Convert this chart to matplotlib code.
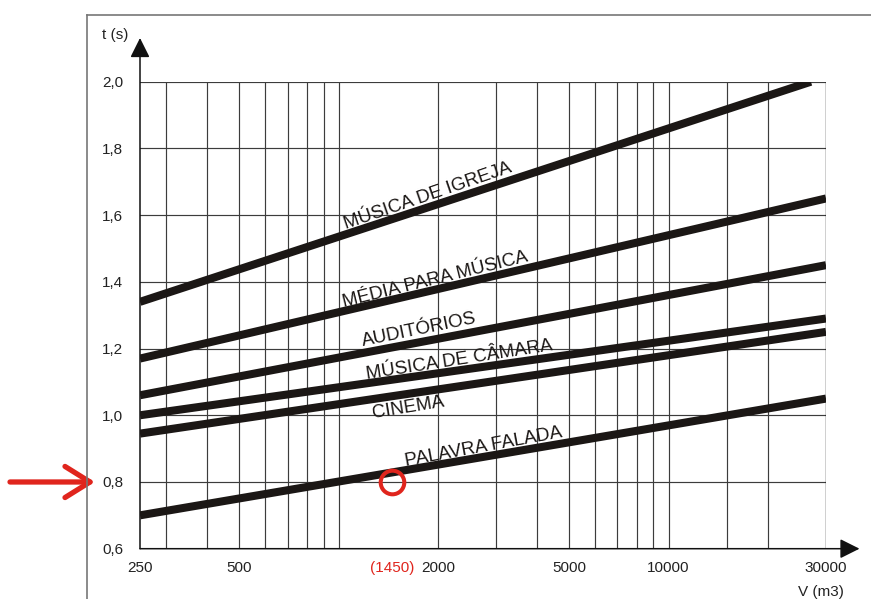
import numpy as np
import matplotlib
matplotlib.use("Agg")
import matplotlib.pyplot as plt
from matplotlib.lines import Line2D

plt.rcParams["font.family"] = ["Liberation Sans", "DejaVu Sans"]

# reverberation time vs room volume, one straight line (log V) per room use
names = ["MÚSICA DE IGREJA", "MÉDIA PARA MÚSICA", "AUDITÓRIOS",
         "MÚSICA DE CÂMARA", "CINEMA", "PALAVRA FALADA"]
v_start = [250, 250, 250, 250, 250, 250]
t_start = [1.34, 1.17, 1.06, 1.00, 0.945, 0.70]
v_end = [27000, 30000, 30000, 30000, 30000, 30000]
t_end = [2.00, 1.65, 1.45, 1.29, 1.25, 1.05]

# where each name sits along its line, and how far above (+) / below (-) it, in points
label_v = [1865, 1960, 1750, 2320, 1630, 2750]
label_dy = [8, 7.5, 9, 7, -10, 7]

x_ticks = [250, 500, 1450, 2000, 5000, 10000, 30000]
x_ticklabels = ["250", "500", "(1450)", "2000", "5000", "10000", "30000"]
y_ticks = [0.6, 0.8, 1.0, 1.2, 1.4, 1.6, 1.8, 2.0]
y_ticklabels = ["0,6", "0,8", "1,0", "1,2", "1,4", "1,6", "1,8", "2,0"]
v_grid = [300, 400, 500, 600, 700, 800, 900, 1000, 2000, 3000, 4000, 5000,
          6000, 7000, 8000, 9000, 10000, 15000, 20000]

# worked example: 1450 m3 of spoken word
v_example = 1450
t_example = 0.8

W, H = 871, 599
fig = plt.figure(figsize=(W / 100, H / 100), dpi=100)
ax = fig.add_axes([140 / W, 1 - 548.7 / H, 686 / W, 467 / H])
ax.set_xscale("log")
ax.set_xlim(250, 30000)
ax.set_ylim(0.6, 2.0)

grid_kw = dict(color="#3c3c3c", lw=0.85, zorder=1)
for v in v_grid:
    ax.axvline(v, **grid_kw)
for t in y_ticks[1:]:
    ax.axhline(t, **grid_kw)
ax.axvline(30000, color="#111", lw=1.0, zorder=1)

for sp in ax.spines.values():
    sp.set_visible(False)

ax.set_xticks(x_ticks)
ax.set_xticklabels(x_ticklabels)
ax.set_yticks(y_ticks)
ax.set_yticklabels(y_ticklabels)
ax.xaxis.set_minor_locator(matplotlib.ticker.NullLocator())
ax.tick_params(length=0, labelsize=11, colors="#222")
ax.tick_params(axis="x", pad=9)
ax.tick_params(axis="y", pad=12)
for lab in ax.get_xticklabels():
    if lab.get_text() == "(1450)":
        lab.set_color("#e0251d")

# axis lines with filled arrow heads
arrow_kw = dict(arrowstyle="-|>,head_length=0.6,head_width=0.3", mutation_scale=20,
                color="#111", lw=1.1, shrinkA=0, shrinkB=0)
ax.annotate("", xy=(0, 1 + 43.7 / 467), xytext=(0, 0), xycoords="axes fraction",
            arrowprops=arrow_kw, annotation_clip=False)
ax.annotate("", xy=(1 + 33.5 / 686, 0), xytext=(0, 0), xycoords="axes fraction",
            arrowprops=arrow_kw, annotation_clip=False)

for name, v0, t0, v1, t1, lv, dy in zip(names, v_start, t_start, v_end, t_end,
                                        label_v, label_dy):
    ax.plot([v0, v1], [t0, t1], color="#1b1715", lw=5.8, solid_capstyle="butt", zorder=3)
    p0 = ax.transData.transform((v0, t0))
    p1 = ax.transData.transform((v1, t1))
    ang = np.degrees(np.arctan2(p1[1] - p0[1], p1[0] - p0[0]))
    frac = np.log10(lv / v0) / np.log10(v1 / v0)
    lt = t0 + frac * (t1 - t0)
    ax.annotate(name, xy=(lv, lt), xytext=(0, dy), textcoords="offset points",
                ha="center", va="center", rotation=ang + 0.8, rotation_mode="anchor",
                fontsize=13.5, color="#1b1715", zorder=4)

ax.plot(v_example, t_example, "o", ms=17, mfc="none", mec="#e0251d", mew=2.9,
        zorder=5, clip_on=False)

# red pointer to the 0,8 s reading
ax.annotate("", xy=(95 / W, t_example), xytext=(10 / W, t_example),
            xycoords=("figure fraction", "data"),
            arrowprops=dict(arrowstyle="->,head_length=0.45,head_width=0.28",
                            mutation_scale=40, color="#e0251d", lw=3.8,
                            shrinkA=0, shrinkB=0),
            annotation_clip=False)

fig.text(115 / W, 1 - 35 / H, "t (s)", ha="center", va="center", fontsize=11, color="#222")
fig.text(821 / W, 1 - 592 / H, "V (m3)", ha="center", va="center", fontsize=11, color="#222")

# outer frame
frame_kw = dict(color="#777", lw=1.2, transform=fig.transFigure)
fig.add_artist(Line2D([87 / W, 87 / W], [0, 1 - 15 / H], **frame_kw))
fig.add_artist(Line2D([87 / W, 1], [1 - 15 / H, 1 - 15 / H], **frame_kw))

fig.savefig("out.png", dpi=100)
